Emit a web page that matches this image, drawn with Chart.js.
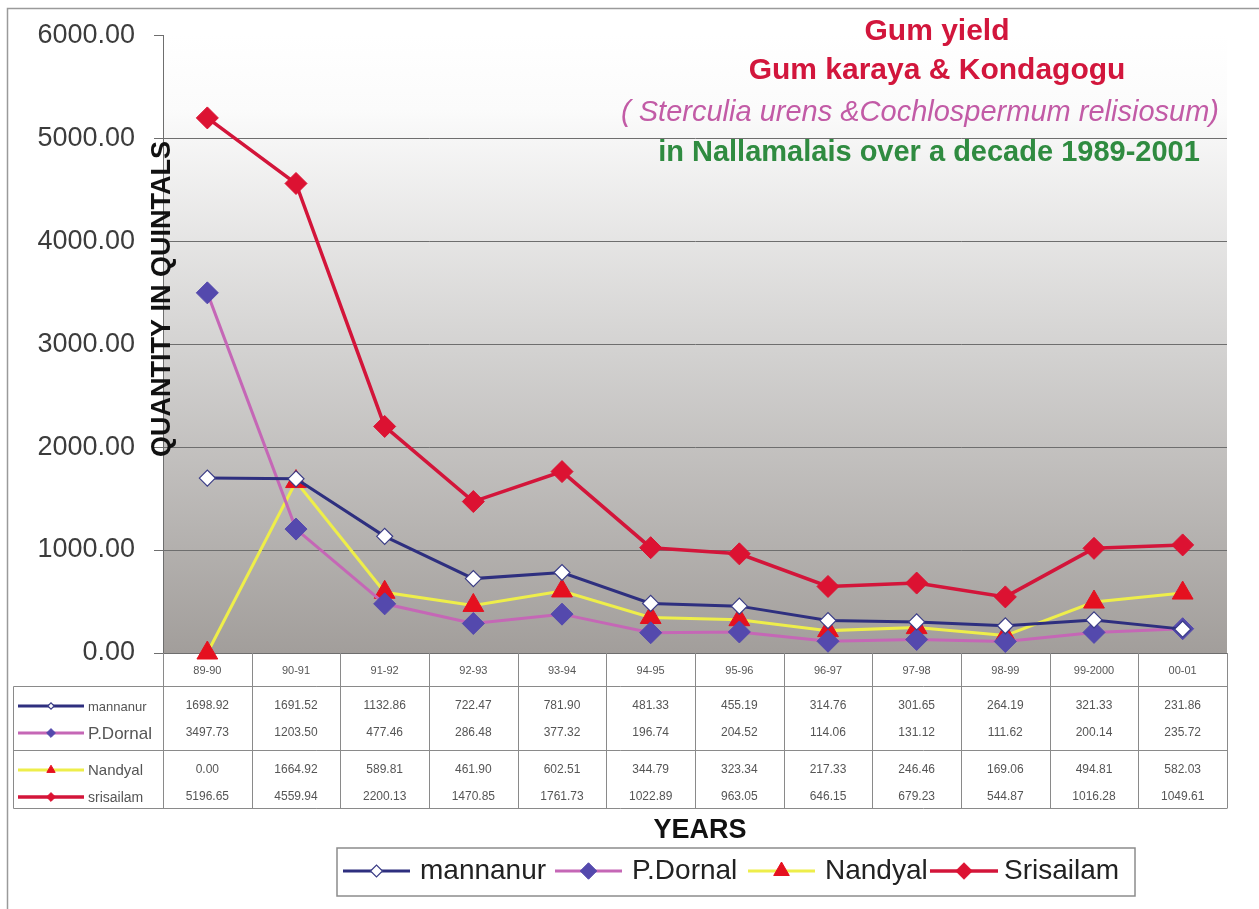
<!DOCTYPE html>
<html>
<head>
<meta charset="utf-8">
<title>Gum yield</title>
<script src="https://cdn.jsdelivr.net/npm/chart.js@4/dist/chart.umd.min.js"></script>
<style>
  html, body { margin: 0; padding: 0; background: #fff; }
  #gumChart { display: block; }
</style>
</head>
<body>
<canvas id="gumChart" width="1259" height="909"></canvas>
<script>
var years = ['89-90', '90-91', '91-92', '92-93', '93-94', '94-95', '95-96', '96-97', '97-98', '98-99', '99-2000', '00-01'];
var mannanur  = [1698.92, 1691.52, 1132.86, 722.47, 781.90, 481.33, 455.19, 314.76, 301.65, 264.19, 321.33, 231.86];
var pDornal   = [3497.73, 1203.50, 477.46, 286.48, 377.32, 196.74, 204.52, 114.06, 131.12, 111.62, 200.14, 235.72];
var nandyal   = [0.00, 1664.92, 589.81, 461.90, 602.51, 344.79, 323.34, 217.33, 246.46, 169.06, 494.81, 582.03];
var srisailam = [5196.65, 4559.94, 2200.13, 1470.85, 1761.73, 1022.89, 963.05, 646.15, 679.23, 544.87, 1016.28, 1049.61];
var yTicks = [0, 1000, 2000, 3000, 4000, 5000, 6000];

var tableRows = [
    { key: 0, label: 'mannanur', font: '13px Arial', y: 706 },
    { key: 1, label: 'P.Dornal', font: '17px Arial', y: 733 },
    { key: 2, label: 'Nandyal', font: '15px Arial', y: 770 },
    { key: 3, label: 'srisailam', font: '14px Arial', y: 797 }
];

// draws a line with the dataset's marker on it (legend keys and table keys)
function drawKey(ctx, ds, x1, x2, y, scale) {
    ctx.save();
    ctx.strokeStyle = ds.borderColor;
    ctx.lineWidth = ds.borderWidth;
    ctx.beginPath();
    ctx.moveTo(x1, y);
    ctx.lineTo(x2, y);
    ctx.stroke();
    ctx.fillStyle = ds.pointBackgroundColor;
    ctx.strokeStyle = ds.pointBorderColor;
    ctx.lineWidth = ds.pointBorderWidth;
    Chart.helpers.drawPoint(ctx, {
        pointStyle: ds.pointStyle,
        radius: ds.pointRadius * scale,
        rotation: 0,
        borderWidth: ds.pointBorderWidth
    }, (x1 + x2) / 2, y);
    ctx.restore();
}

var plotBackground = {
    id: 'plotBackground',
    beforeDraw: function(chart) {
        var ctx = chart.ctx, a = chart.chartArea;
        var g = ctx.createLinearGradient(0, a.top, 0, a.bottom);
        g.addColorStop(0, '#ffffff');
        g.addColorStop(0.12, '#fbfbfb');
        g.addColorStop(0.5, '#d4d3d2');
        g.addColorStop(1, '#a29e9b');
        ctx.save();
        ctx.fillStyle = g;
        ctx.fillRect(a.left, a.top, a.right - a.left, a.bottom - a.top);
        // outer frame
        ctx.strokeStyle = '#9a9a9a';
        ctx.lineWidth = 1.5;
        ctx.beginPath();
        ctx.moveTo(7.5, 909);
        ctx.lineTo(7.5, 8.5);
        ctx.lineTo(1259, 8.5);
        ctx.stroke();
        ctx.restore();
    }
};

// table lines are drawn before the datasets so the markers sit on top
var tableGrid = {
    id: 'tableGrid',
    beforeDatasetsDraw: function(chart) {
        var ctx = chart.ctx, a = chart.chartArea;
        var step = (a.right - a.left) / years.length;
        var tTop = a.bottom, hBottom = 686.5, mid = 750.5, tBottom = 808.5, tLeft = 13.5;
        ctx.save();
        ctx.strokeStyle = '#8a8a8a';
        ctx.lineWidth = 1;
        ctx.beginPath();
        [hBottom, mid, tBottom].forEach(function(y) {
            ctx.moveTo(tLeft, y);
            ctx.lineTo(a.right, y);
        });
        ctx.moveTo(tLeft, hBottom);
        ctx.lineTo(tLeft, tBottom);
        for (var i = 0; i <= years.length; i++) {
            var x = Math.round(a.left + i * step) + 0.5;
            ctx.moveTo(x, tTop);
            ctx.lineTo(x, tBottom);
        }
        ctx.stroke();
        ctx.restore();
    }
};

var extras = {
    id: 'extras',
    afterDraw: function(chart) {
        var ctx = chart.ctx;
        var xs = chart.scales.x;
        var sets = chart.data.datasets;
        ctx.save();

        // titles
        ctx.textAlign = 'center';
        ctx.textBaseline = 'middle';
        ctx.fillStyle = '#d2163c';
        ctx.font = 'bold 30px Arial';
        ctx.fillText('Gum yield', 937, 32);
        ctx.fillText('Gum karaya & Kondagogu', 937, 71);
        ctx.fillStyle = '#c25ba6';
        ctx.font = 'italic 29px Arial';
        ctx.fillText('( Sterculia urens &Cochlospermum relisiosum)', 920, 113);
        ctx.fillStyle = '#2f8b40';
        ctx.font = 'bold 29px Arial';
        ctx.fillText('in Nallamalais over a decade 1989-2001', 929, 153);

        // y axis title
        ctx.save();
        ctx.translate(163, 299);
        ctx.rotate(-Math.PI / 2);
        ctx.fillStyle = '#111';
        ctx.font = 'bold 27px Arial';
        ctx.fillText('QUANTITY IN QUINTALS', 0, 0);
        ctx.restore();

        // table text
        ctx.fillStyle = '#555';
        ctx.font = '11px Arial';
        years.forEach(function(lbl, i) {
            ctx.fillText(lbl, xs.getPixelForValue(i), 671);
        });
        tableRows.forEach(function(row) {
            var ds = sets[row.key];
            drawKey(ctx, ds, 18, 84, row.y, 0.4);
            ctx.fillStyle = '#555';
            ctx.textAlign = 'left';
            ctx.font = row.font;
            ctx.fillText(row.label, 88, row.y + 1);
            ctx.textAlign = 'center';
            ctx.font = '12px Arial';
            ds.data.forEach(function(v, i) {
                ctx.fillText(v.toFixed(2), xs.getPixelForValue(i), row.y);
            });
        });

        // x axis title
        ctx.fillStyle = '#111';
        ctx.font = 'bold 27px Arial';
        ctx.fillText('YEARS', 700, 831);

        // legend box
        ctx.fillStyle = '#fff';
        ctx.strokeStyle = '#8c8c8c';
        ctx.lineWidth = 1.5;
        ctx.fillRect(337, 848, 798, 48);
        ctx.strokeRect(337, 848, 798, 48);
        var legendPos = [[343, 410, 420], [555, 622, 632], [748, 815, 825], [930, 998, 1004]];
        sets.forEach(function(ds, i) {
            var p = legendPos[i];
            drawKey(ctx, ds, p[0], p[1], 871, 0.75);
            ctx.fillStyle = '#222';
            ctx.textAlign = 'left';
            ctx.font = '28px Arial';
            ctx.fillText(ds.label, p[2], 871);
        });
        ctx.restore();
    }
};

var ctx = document.getElementById('gumChart').getContext('2d');
var gumChart = new Chart(ctx, {
    type: 'line',
    data: {
        labels: years,
        datasets: [{
            label: 'mannanur',
            data: mannanur,
            borderColor: '#2e2f7f',
            borderWidth: 3,
            pointStyle: 'rectRot',
            pointRadius: 8,
            pointBackgroundColor: '#ffffff',
            pointBorderColor: '#3a3c86',
            pointBorderWidth: 1.2
        }, {
            label: 'P.Dornal',
            data: pDornal,
            borderColor: '#c567b6',
            borderWidth: 3,
            pointStyle: 'rectRot',
            pointRadius: 11,
            pointBackgroundColor: '#5449ad',
            pointBorderColor: '#5449ad',
            pointBorderWidth: 1
        }, {
            label: 'Nandyal',
            data: nandyal,
            borderColor: '#eeee4a',
            borderWidth: 3,
            pointStyle: 'triangle',
            pointRadius: 12,
            pointBackgroundColor: '#e5101f',
            pointBorderColor: '#e5101f',
            pointBorderWidth: 1
        }, {
            label: 'Srisailam',
            data: srisailam,
            borderColor: '#d3153a',
            borderWidth: 3.5,
            pointStyle: 'rectRot',
            pointRadius: 11,
            pointBackgroundColor: '#dc1232',
            pointBorderColor: '#dc1232',
            pointBorderWidth: 1
        }]
    },
    options: {
        responsive: false,
        animation: false,
        devicePixelRatio: 1,
        clip: false,
        layout: { padding: { left: 0, top: 33, right: 32, bottom: 0 } },
        plugins: {
            legend: { display: false },
            tooltip: { enabled: false }
        },
        scales: {
            x: {
                offset: true,
                grid: { display: false },
                border: { display: false },
                ticks: { display: false },
                afterFit: function(scale) { scale.height = 909 - 653; }
            },
            y: {
                min: 0,
                max: 6000,
                afterBuildTicks: function(scale) {
                    scale.ticks = yTicks.map(function(v) { return { value: v }; });
                },
                afterFit: function(scale) { scale.width = 163; },
                border: { display: true, color: '#6e6e6e', width: 1 },
                grid: {
                    color: function(c) { return c.tick && c.tick.value === 6000 ? 'rgba(0,0,0,0)' : '#6e6e6e'; },
                    tickColor: '#6e6e6e',
                    tickLength: 9,
                    lineWidth: 1
                },
                ticks: {
                    color: '#3c3c3c',
                    font: { family: 'Arial', size: 27 },
                    padding: 19,
                    callback: function(v) { return Number(v).toFixed(2); }
                }
            }
        }
    },
    plugins: [plotBackground, tableGrid, extras]
});
</script>
</body>
</html>
